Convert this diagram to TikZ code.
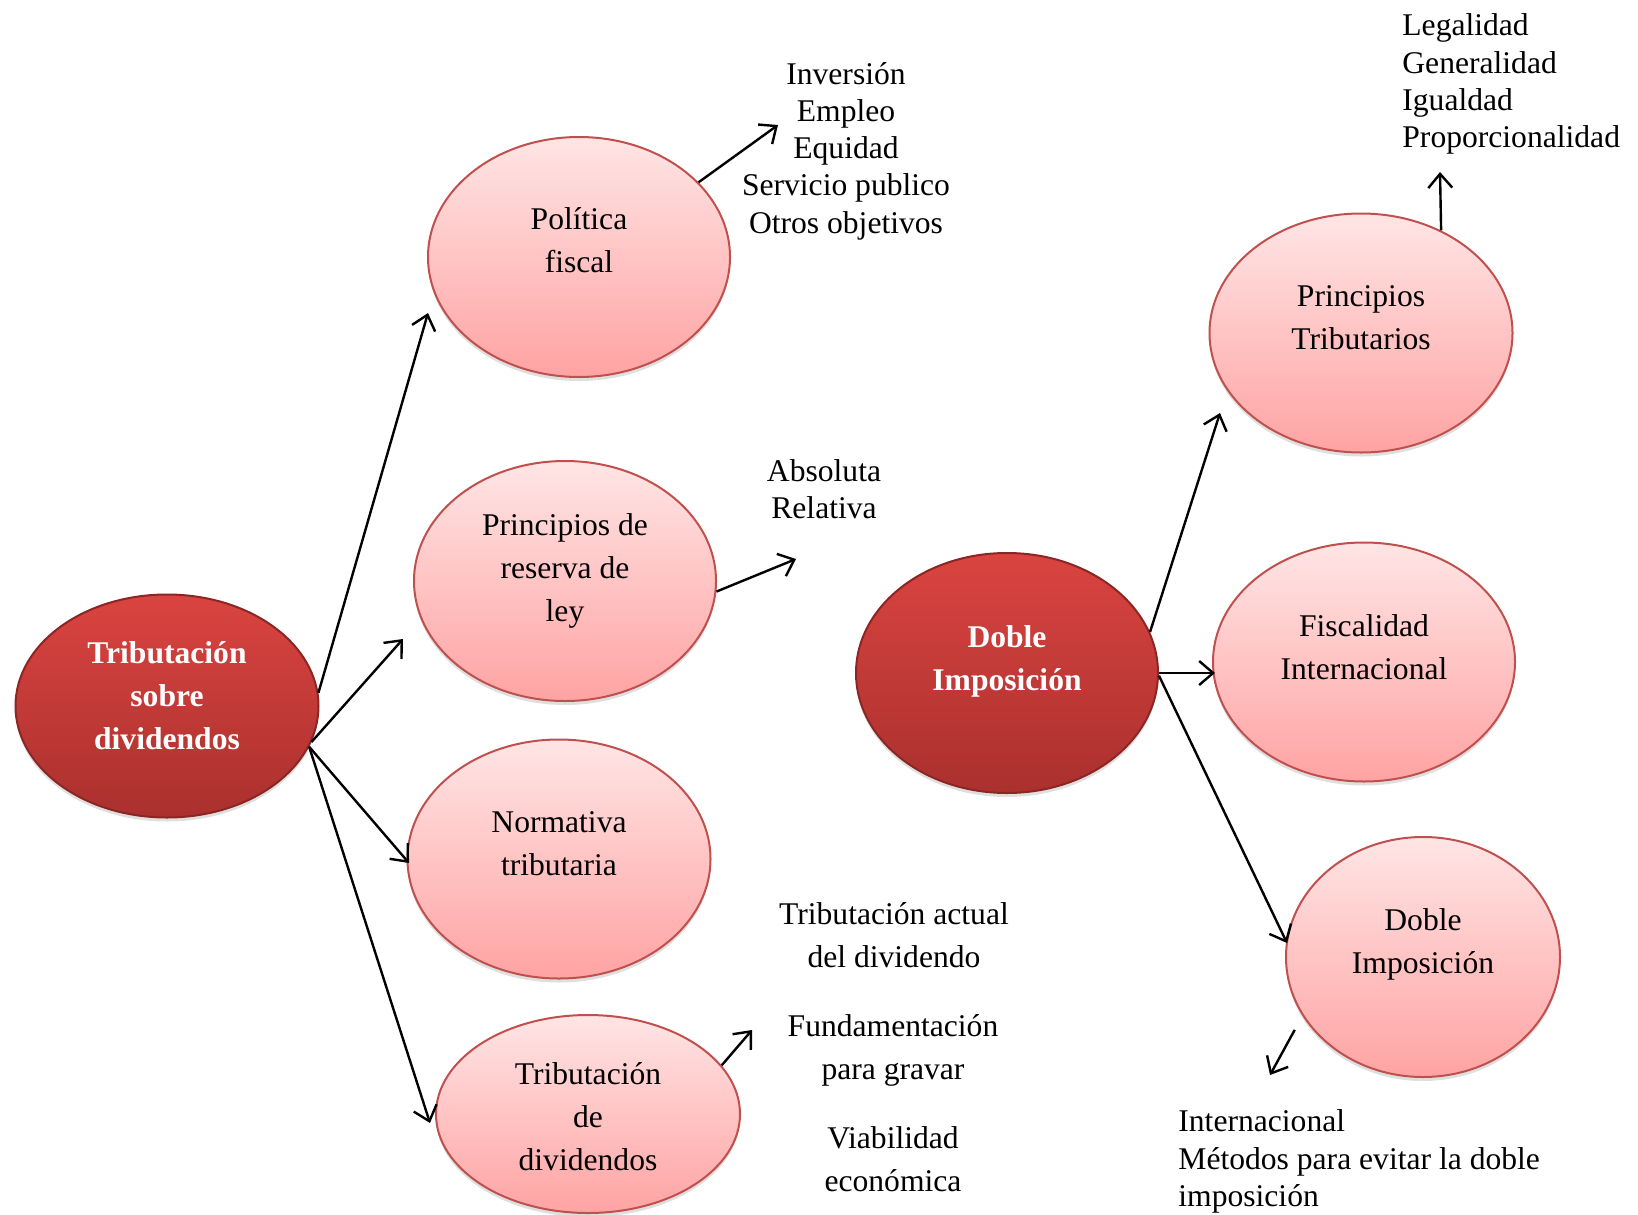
\documentclass[tikz,border=0pt]{standalone}
\usepackage{fontspec}
\setmainfont{Liberation Serif}
\usetikzlibrary{arrows.meta,shapes.geometric,shadows}

\definecolor{pinkTop}{RGB}{255,229,229}
\definecolor{pinkBot}{RGB}{255,163,163}
\definecolor{pinkLine}{RGB}{192,80,77}
\definecolor{redTop}{RGB}{218,68,64}
\definecolor{redBot}{RGB}{170,48,46}
\definecolor{redLine}{RGB}{140,38,36}

\tikzset{
  bubble/.style={ellipse, inner sep=0pt, line width=1pt,
    drop shadow={shadow xshift=0pt, shadow yshift=-2pt, opacity=0.25}},
  light/.style={bubble, draw=pinkLine, top color=pinkTop, bottom color=pinkBot},
  dark/.style={bubble, draw=redLine, top color=redTop, bottom color=redBot},
  lt/.style={align=center, font=\fontsize{15.8}{21.5}\selectfont},
  dk/.style={align=center, text=white, font=\fontsize{15.8}{21.5}\selectfont\bfseries},
  list/.style={align=center, inner sep=0pt, font=\fontsize{15.8}{18.6}\selectfont},
  arr/.style={-{Straight Barb[length=7pt,width=12pt]}, line width=1.2pt},
}

\begin{document}
\begin{tikzpicture}[x=0.5pt,y=-0.5pt]
\useasboundingbox (0,0) rectangle (1638,1215);

% left side
\node[dark, minimum width=151.5pt, minimum height=111.5pt,
  label={[dk,yshift=5pt]center:Tributación\\sobre\\dividendos}] (trib) at (167,706) {};
\node[light, minimum width=151pt, minimum height=120pt,
  label={[lt,yshift=8.5pt]center:Política\\fiscal}] (pol) at (579,257) {};
\node[light, minimum width=151pt, minimum height=120pt,
  label={[lt,yshift=5pt]center:Principios de\\reserva de\\ley}] (res) at (565,581) {};
\node[light, minimum width=151.5pt, minimum height=119.5pt,
  label={[lt,yshift=7.75pt]center:Normativa\\tributaria}] (nor) at (559,859) {};
\node[light, minimum width=152pt, minimum height=99pt,
  label={[lt,yshift=-1.5pt]center:Tributación\\de\\dividendos}] (tdd) at (588,1114) {};

% right side
\node[dark, minimum width=151pt, minimum height=120pt,
  label={[dk,yshift=5.75pt]center:Doble\\Imposición}] (dob) at (1007,673) {};
\node[light, minimum width=151.5pt, minimum height=119.5pt,
  label={[lt,yshift=7.5pt]center:Principios\\Tributarios}] (pt) at (1361,333) {};
\node[light, minimum width=151pt, minimum height=119.5pt,
  label={[lt,yshift=7.5pt]center:Fiscalidad\\Internacional}] (fis) at (1364,662) {};
\node[light, minimum width=137pt, minimum height=120pt,
  label={[lt,yshift=6.25pt]center:Doble\\Imposición}] (dil) at (1423,957) {};

% lists
\node[list] (polList) at (846,151) {Inversión\\Empleo\\Equidad\\Servicio publico\\Otros objetivos};
\node[list] (resList) at (824,489) {Absoluta\\Relativa};
\node[list, anchor=west, align=left] (ptList) at (1402,84) {Legalidad\\Generalidad\\Igualdad\\Proporcionalidad};
\node[list, font=\fontsize{15.8}{21.5}\selectfont] (tddA) at (894,935) {Tributación actual\\del dividendo};
\node[list, font=\fontsize{15.8}{21.5}\selectfont] (tddB) at (893,1050.5) {Fundamentación\\para gravar};
\node[list, font=\fontsize{15.8}{21.5}\selectfont] (tddC) at (893,1159.5) {Viabilidad\\económica};
\node[list, anchor=west, align=left] (dilList) at (1178,1161.5) {Internacional\\Métodos para evitar la doble\\imposición};

% arrow tips
\coordinate (polIn) at (428,313);
\coordinate (resIn) at (403,639);
\coordinate (norIn) at (409,863);
\coordinate (tddIn) at (430,1123);
\coordinate (polOut) at (778,125);
\coordinate (resOut) at (796,559);
\coordinate (tddOut) at (752,1030);
\coordinate (ptIn) at (1220,413);
\coordinate (fisIn) at (1215,673);
\coordinate (dilIn) at (1287,943);
\coordinate (ptOut) at (1440,172);
\coordinate (dilOut) at (1270,1075);

\draw[arr] (trib.5) -- (polIn);
\draw[arr] (trib.-14) -- (resIn);
\draw[arr] (trib.-16) -- (norIn);
\draw[arr] (trib.-16) -- (tddIn);
\draw[arr] (pol.32) -- (polOut);
\draw[arr] (res.-4) -- (resOut);
\draw[arr] (tdd.20) -- (tddOut);

\draw[arr] (dob.16) -- (ptIn);
\draw[arr] (dob.0) -- (fisIn);
\draw[arr] (dob.-1) -- (dilIn);
\draw[arr] (pt.52) -- (ptOut);
\draw[arr, shorten <=8pt] (dil.206) -- (dilOut);

\end{tikzpicture}
\end{document}
